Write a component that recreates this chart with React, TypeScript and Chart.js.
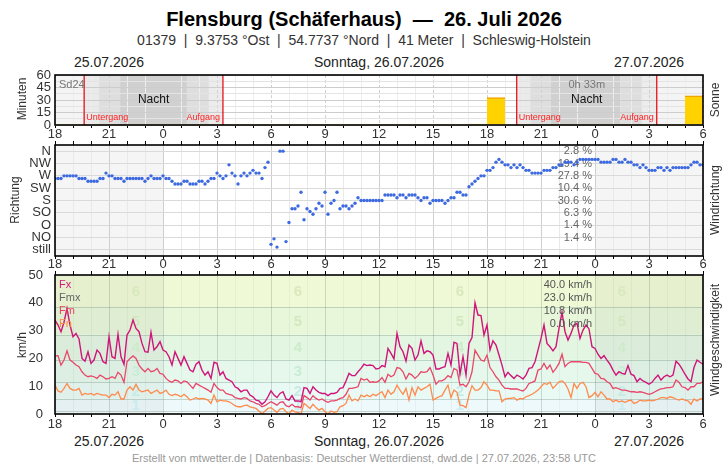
import React, { useEffect, useRef } from 'react';
import { Chart, registerables } from 'chart.js';

Chart.register(...registerables);

// ---------------- data ----------------
const FONT = '"Liberation Sans", Arial, Helvetica, sans-serif';
const SPAN_HOURS = 36; // 25.07. 18:00 UTC .. 27.07. 06:00 UTC
const SAMPLE_MIN = 10;

const xTickLabels = ['18', '21', '0', '3', '6', '9', '12', '15', '18', '21', '0', '3', '6'];
const dateLabels = ['25.07.2026', 'Sonntag, 26.07.2026', '27.07.2026'];
const dateCenterHours = [3, 18, 33];

// sunshine minutes per hour (first bar = 18-19 UTC on 25.07.)
const sunMinutes = [
  0, 0, 0, 0, 0, 0, 0, 0, 0, 0, 0, 0, 0, 0, 0, 0, 0, 0,
  0, 0, 0, 0, 0, 1, 33, 0, 0, 0, 0, 0, 0, 0, 0, 0, 0, 35,
];
const sunsetHours = [1.62, 25.65];
const civilDuskHours = [2.45, 26.4];
const nauticalDuskHours = [3.62, 27.55];
const nauticalDawnHours = [7.33, 31.4];
const civilDawnHours = [8.55, 32.6];
const sunriseHours = [9.33, 33.43];
const otherDayRanges = [[0, 6], [30, 36]];
const sunTotalLabel = '0h 33m';

const dirLabels = ['still', 'NO', 'O', 'SO', 'S', 'SW', 'W', 'NW', 'N'];
const dirFreq = [2.8, 19.4, 27.8, 10.4, 30.6, 6.3, 1.4, 1.4]; // N, NW, W, SW, S, SO, O, NO
const dirDeg = [
  260, 260, 260, 270, 270, 270, 270, 270, 260, 260,
  260, 250, 250, 250, 250, 260, 260, 280, 270, 270,
  260, 260, 260, 250, 260, 260, 260, 260, 260, 260,
  250, 260, 270, 260, 260, 260, 270, 260, 260, 250,
  240, 240, 240, 250, 250, 240, 240, 240, 250, 250,
  240, 250, 260, 260, 280, 270, 260, 270, 310, 280,
  270, 240, 270, 280, 270, 280, 290, 280, 280, 260,
  300, 320, 20, 40, 10, 360, 360, 30, 100, 150,
  150, 160, 210, 110, 150, 140, 130, 150, 170, 160,
  210, 130, 170, 180, 210, 150, 160, 160, 150, 160,
  170, 190, 180, 180, 180, 180, 180, 180, 180, 180,
  200, 200, 200, 200, 190, 200, 200, 190, 200, 200,
  200, 190, 180, 190, 190, 170, 180, 180, 180, 180,
  170, 180, 190, 190, 210, 210, 200, 200, 230, 240,
  250, 260, 270, 270, 290, 290, 300, 320, 330, 320,
  310, 310, 300, 310, 300, 310, 300, 290, 290, 280,
  280, 280, 280, 290, 290, 290, 300, 300, 310, 310,
  320, 320, 320, 310, 320, 330, 330, 330, 330, 330,
  330, 330, 320, 320, 320, 320, 330, 330, 320, 320,
  330, 320, 320, 310, 310, 300, 310, 300, 290, 290,
  290, 300, 300, 290, 300, 290, 300, 300, 300, 300,
  300, 300, 310, 320, 320, 310, 310,
];

const fx = [
  33.8, 32, 29.6, 33, 38, 32, 27.8, 29, 27, 20,
  19, 22.4, 18.2, 19.4, 23, 21.8, 18.8, 18.2, 27.8, 20.6,
  20, 28.7, 20.6, 17.9, 28.4, 30.2, 33.8, 30.8, 29.6, 25.4,
  22.4, 22.2, 29.4, 23, 24.2, 26, 23, 22.4, 20.6, 17.6,
  22.4, 20, 17.6, 20.6, 18.2, 15.8, 15.2, 17.9, 18.8, 15.8,
  14, 15.2, 12.8, 18.6, 18.2, 14, 15.2, 12.8, 12.2, 11.6,
  9.8, 9.2, 8, 8.6, 8.6, 6.8, 6.2, 5, 4.7, 3.5,
  4.4, 6.2, 8.3, 6.8, 5.9, 7.4, 8, 5.4, 5, 6.6,
  4.7, 4.7, 4.4, 9.5, 9.2, 7.4, 9.8, 8.6, 7.8, 7.4,
  7.4, 6.6, 7.4, 7.4, 7.8, 9.2, 9.5, 11.9, 14.6, 13.8,
  13.8, 15.2, 16.4, 17.9, 17.4, 17.6, 17.4, 16.2, 16.4, 17.4,
  17, 23.6, 21.8, 19.8, 29, 24.2, 22.4, 19, 24.8, 23.6,
  19.4, 21.2, 26.3, 21.8, 22.7, 22.4, 21.2, 16.2, 16.2, 16.7,
  17, 21.8, 17.6, 25.8, 25.4, 14.3, 20.6, 14, 25.4, 27.5,
  40, 35.6, 35.4, 28.4, 32, 23, 26.3, 24.8, 21.2, 17.6,
  13.4, 15, 13.8, 12.8, 14, 13.4, 12.6, 14, 16.4, 16.7,
  18.8, 23, 27.2, 32, 25.4, 24.2, 22.7, 24.2, 30.8, 36.6,
  29.6, 26.6, 29, 32, 32.6, 27.2, 30.2, 32, 30.6, 24.2,
  23.6, 21.5, 20, 21, 19.4, 17.9, 15.8, 14, 15.2, 14.6,
  14.3, 17.4, 14.3, 13.8, 11.6, 12.8, 11.9, 11.4, 10.7, 11.4,
  12.8, 14, 12.2, 13.4, 14, 13.4, 14, 19, 17.9, 16.2,
  14.3, 12.6, 11.6, 16.7, 19.4, 18.6, 17.9,
];

const fm = [
  20.9, 21, 17.6, 19.4, 22.7, 19.4, 18.6, 17.6, 17, 15.2,
  14, 13.4, 13.7, 13.4, 12.8, 14, 13.4, 12.6, 12.8, 13.4,
  12.8, 15, 14, 11.4, 18.8, 20, 20.9, 20, 17.6, 16.2,
  15.2, 16.4, 15.2, 15.5, 16.4, 14.6, 14.3, 12.8, 11.9, 11.4,
  12.2, 11.9, 11, 11.9, 11.6, 10.4, 9.2, 11, 10.4, 9.8,
  9.2, 8.6, 7.8, 11, 9.5, 8.6, 8.6, 7.4, 7.1, 6.8,
  5.9, 5.6, 5.4, 5.9, 5.6, 4.7, 4.4, 3.8, 3.5, 2.6,
  3, 3.8, 4.4, 3.8, 3.2, 4.2, 4.4, 3, 2.6, 3.5,
  2.6, 2.6, 2.3, 6.6, 5.9, 5, 6.6, 5.6, 5, 5.4,
  4.7, 4.2, 4.7, 4.7, 5, 5.6, 5.9, 7.1, 9.2, 9.2,
  9.5, 9.8, 12.8, 12.2, 12.6, 11.4, 11.6, 11.4, 11.9, 13.1,
  11.4, 14.3, 13.4, 14, 16.7, 16.4, 15.2, 12.6, 14.6, 14,
  12.8, 13.8, 15.2, 15, 15.2, 16.7, 14, 10.7, 11.9, 11.9,
  12.6, 13.8, 13.1, 16.4, 15.8, 10.4, 10.7, 9.8, 11.6, 15.2,
  23, 21.2, 19.4, 19, 21.2, 16.7, 15.2, 13.4, 12.2, 10.4,
  9.2, 9.2, 9, 9, 9, 8.6, 8.3, 9.2, 11, 11.4,
  11.9, 15.8, 16.2, 18.2, 16.2, 17.6, 15, 16.4, 18.2, 21.5,
  17, 18.2, 18.8, 18.8, 18.8, 18.8, 18.6, 18.6, 18.2, 16.4,
  14.6, 14.3, 12.8, 12.6, 11.6, 11, 9.2, 9.5, 9, 8.6,
  8.6, 8.3, 8, 8, 7.8, 8, 7.8, 7.4, 7.1, 7.4,
  8, 8.6, 9, 9.2, 9.5, 9.5, 9.8, 12.2, 11.4, 9.8,
  9.5, 8.6, 9.8, 9.8, 11, 11, 11.6,
];

const fn = [
  10.4, 8.3, 7.8, 9.2, 11, 9.2, 8.6, 8.6, 9.2, 6.8,
  7.4, 7.1, 7.4, 6.8, 7.4, 7.1, 6.8, 6.8, 5.9, 7.1,
  6.8, 8, 5.4, 5.4, 8.6, 9.8, 8.6, 10.7, 8.6, 8,
  8.3, 8.6, 7.4, 8, 8.6, 7.4, 7.8, 8.6, 7.1, 6.6,
  7.1, 6.8, 6.2, 7.1, 6.2, 5, 5.4, 5.9, 5.4, 5.6,
  5.4, 5, 3.8, 6.8, 4.4, 5, 4.7, 4.7, 4.4, 3.8,
  3, 2.6, 2.6, 3, 3.2, 2.6, 2.3, 2, 1.1, 0,
  1.1, 2, 2.3, 1.4, 0.6, 1.8, 2, 0.8, 0, 1.4,
  0.8, 0.6, 0, 3.8, 3, 2, 3.5, 2.3, 1.4, 2,
  0.8, 0, 1.1, 0.6, 0.8, 2.6, 3, 3.8, 6.8, 4.7,
  5.4, 4.7, 6.8, 6.2, 6.8, 6.2, 7.1, 6.6, 7.4, 8,
  5.9, 8.6, 7.1, 8, 10.4, 8.6, 7.1, 9.2, 5, 9.5,
  6.8, 9.8, 8.6, 9.2, 9.8, 10.7, 5, 5.6, 6.2, 6.6,
  8.6, 10.4, 5.9, 8.6, 7.8, 3.2, 3, 2.3, 6.8, 10.2,
  8.6, 8.6, 9.5, 11.6, 10.4, 8.6, 8.6, 8.3, 8.3, 4.4,
  5.4, 5.6, 5.6, 5.9, 5, 5.6, 5.4, 6.2, 6.6, 7.1,
  7.8, 8.6, 9.8, 11, 10.7, 11.4, 9.2, 10.4, 11.6, 11.9,
  11, 9, 5.9, 11, 9.2, 11, 11.4, 9.8, 5.9, 6.6,
  7.8, 6.2, 8, 6.8, 5.4, 5.4, 4.4, 5, 4.4, 4.7,
  4.2, 4.7, 5, 3.8, 4.2, 5, 4.7, 4.7, 5, 4.7,
  5, 5.4, 5.9, 5.9, 5.6, 6.2, 5.9, 5.4, 5, 5.4,
  5, 4.7, 3.5, 5.4, 4.7, 5.4, 5.4,
];

const speedStatNames = ['Fx', 'Fmx', 'Fm', 'Fn'];
const speedStatValues = [40.0, 23.0, 10.8, 0.0];
const bftBounds = [0, 1, 5.5, 11.5, 19.5, 28.5, 38.5, 50];
const bftDigits = ['1', '2', '3', '4', '5', '6'];

// ---------------- styling ----------------
const PLOT_LEFT = 55;
const PLOT_RIGHT = 703;
const hx = (h: number) => PLOT_LEFT + (h / SPAN_HOURS) * (PLOT_RIGHT - PLOT_LEFT);
const hourTicks = Array.from({ length: SPAN_HOURS + 1 }, (_, i) => i);
const sampleX = (i: number) => (i * SAMPLE_MIN) / 60;

const bftFill = ['#f2fbfb', '#edf9fa', '#e9f9f4', '#e6f8ec', '#e3f6e2', '#e8f7da', '#eff9d6'];
const bftDigitColor = ['#c8ecf0', '#c5ebe4', '#c9ecd4', '#cdebca', '#d3e8c1', '#d9e8bd'];
const statColors = ['#d21a7e', '#666666', '#e8445f', '#ff8a3d'];

function bottomAxis(height: number, padding: number, major: string, minor: string, dashMajor = false) {
  return {
    type: 'linear',
    position: 'bottom',
    min: 0,
    max: SPAN_HOURS,
    offset: false,
    afterBuildTicks: (s: any) => {
      s.ticks = hourTicks.map((v) => ({ value: v }));
    },
    afterFit: (s: any) => {
      s.height = height;
      s.paddingLeft = 0;
      s.paddingRight = 0;
    },
    ticks: {
      autoSkip: false,
      maxRotation: 0,
      minRotation: 0,
      padding,
      color: '#333',
      font: { family: FONT, size: 13 },
      callback: (v: number) => (v % 3 === 0 ? xTickLabels[v / 3] : ''),
    },
    grid: {
      color: (c: any) => (c.tick && c.tick.value % 3 === 0 ? major : minor),
      lineWidth: 1,
      drawTicks: true,
      tickLength: 3,
      tickColor: '#000',
      offset: false,
    },
    border: {
      display: false,
      dash: (c: any) => (dashMajor && c.tick && c.tick.value % 3 === 0 ? [3, 2] : []),
    },
  };
}

function topAxis() {
  return {
    type: 'linear',
    position: 'top',
    min: 0,
    max: SPAN_HOURS,
    offset: false,
    afterBuildTicks: (s: any) => {
      s.ticks = hourTicks.map((v) => ({ value: v }));
    },
    afterFit: (s: any) => {
      s.height = 5;
      s.paddingLeft = 0;
      s.paddingRight = 0;
    },
    ticks: { display: false, autoSkip: false },
    grid: { drawOnChartArea: false, drawTicks: true, tickLength: 4, tickColor: '#000', color: '#000', offset: false },
    border: { display: false },
  };
}

function leftAxis(min: number, max: number, values: number[], label: (v: number) => string, gridColor: any, size = 13) {
  return {
    type: 'linear',
    position: 'left',
    min,
    max,
    afterBuildTicks: (s: any) => {
      s.ticks = values.map((v) => ({ value: v }));
    },
    afterFit: (s: any) => {
      s.width = PLOT_LEFT;
      s.paddingTop = 0;
      s.paddingBottom = 0;
    },
    ticks: {
      autoSkip: false,
      padding: 4,
      color: '#333',
      font: { family: FONT, size },
      callback: (v: number) => label(v),
    },
    grid: { color: gridColor, drawTicks: false, lineWidth: 1 },
    border: { display: false },
  };
}

const framePlugin = {
  id: 'frame',
  afterDraw(chart: any) {
    const { ctx, chartArea: a } = chart;
    ctx.save();
    ctx.strokeStyle = '#000';
    ctx.lineWidth = 1.6;
    ctx.strokeRect(a.left, a.top, a.right - a.left, a.bottom - a.top);
    ctx.restore();
  },
};

function fillHours(chart: any, h0: number, h1: number, color: string) {
  const { ctx, chartArea: a, scales } = chart;
  const x0 = scales.x.getPixelForValue(h0);
  const x1 = scales.x.getPixelForValue(h1);
  ctx.fillStyle = color;
  ctx.fillRect(x0, a.top, x1 - x0, a.bottom - a.top);
}

const baseOptions = (padTop: number) => ({
  responsive: false,
  animation: false,
  events: [],
  layout: { padding: { left: 0, right: 728 - PLOT_RIGHT, top: padTop, bottom: 0 } },
  plugins: { legend: { display: false }, tooltip: { enabled: false }, title: { display: false } },
});

// ---------------- charts ----------------
const sunPlugin = {
  id: 'sunBg',
  beforeDraw(chart: any) {
    const { ctx } = chart;
    ctx.save();
    otherDayRanges.forEach(([s, e]) => fillHours(chart, s, e, '#f4f4f4'));
    sunsetHours.forEach((_, k) => {
      fillHours(chart, sunsetHours[k], civilDuskHours[k], '#eaeaea');
      fillHours(chart, civilDuskHours[k], nauticalDuskHours[k], '#dedede');
      fillHours(chart, nauticalDuskHours[k], nauticalDawnHours[k], '#d0d0d0');
      fillHours(chart, nauticalDawnHours[k], civilDawnHours[k], '#dedede');
      fillHours(chart, civilDawnHours[k], sunriseHours[k], '#ececec');
    });
    ctx.restore();
  },
  afterDatasetsDraw(chart: any) {
    const { ctx, chartArea: a, scales } = chart;
    ctx.save();
    sunsetHours.forEach((_, k) => {
      const xs = scales.x.getPixelForValue(sunsetHours[k]);
      const xr = scales.x.getPixelForValue(sunriseHours[k]);
      ctx.strokeStyle = '#e8101a';
      ctx.lineWidth = 1.3;
      [xs, xr].forEach((px) => {
        ctx.beginPath();
        ctx.moveTo(px, a.top);
        ctx.lineTo(px, a.bottom);
        ctx.stroke();
      });
      ctx.textBaseline = 'middle';
      ctx.font = `9px ${FONT}`;
      ctx.fillStyle = '#ff1f1f';
      ctx.textAlign = 'left';
      ctx.fillText('Untergang', xs + 2, a.bottom - 7);
      ctx.textAlign = 'right';
      ctx.fillText('Aufgang', xr - 3, a.bottom - 7);
      ctx.font = `12px ${FONT}`;
      ctx.fillStyle = '#111';
      ctx.textAlign = 'center';
      ctx.fillText('Nacht', (xs + xr) / 2, a.top + 24.5);
      if (k === sunsetHours.length - 1) {
        ctx.font = `11px ${FONT}`;
        ctx.fillStyle = '#777';
        ctx.fillText(sunTotalLabel, (xs + xr) / 2, a.top + 9.7);
      }
    });
    ctx.font = `11px ${FONT}`;
    ctx.fillStyle = '#777';
    ctx.textAlign = 'left';
    ctx.textBaseline = 'middle';
    ctx.fillText('Sd24', a.left + 4, a.top + 9.7);
    ctx.restore();
  },
};

function makeSunConfig(): any {
  const yTicks = [0, 7.5, 15, 22.5, 30, 37.5, 45, 52.5, 60];
  return {
    type: 'bar',
    data: {
      datasets: [
        {
          data: sunMinutes.map((v, i) => ({ x: i + 0.5, y: v })),
          backgroundColor: '#ffd200',
          borderColor: '#f0a400',
          borderWidth: (c: any) => (c.raw && c.raw.y > 0 ? { top: 1.5, left: 0, right: 0, bottom: 0 } : 0),
          borderSkipped: 'bottom',
          categoryPercentage: 1,
          barPercentage: 1,
        },
      ],
    },
    options: {
      ...baseOptions(5),
      scales: {
        x: bottomAxis(20, -1, '#cfcfcf', '#eeeeee', true),
        y: leftAxis(0, 60, yTicks, (v) => (v % 15 === 0 ? String(v) : ''), (c: any) =>
          c.tick && c.tick.value % 15 === 0 ? '#cdcdcd' : '#e4e4e4', 13),
      },
    },
    plugins: [sunPlugin, framePlugin],
  };
}

const dirPlugin = {
  id: 'dirBg',
  beforeDraw(chart: any) {
    const { ctx } = chart;
    ctx.save();
    otherDayRanges.forEach(([s, e]) => fillHours(chart, s, e, '#f5f5f5'));
    ctx.restore();
  },
  beforeDatasetsDraw(chart: any) {
    const { ctx, chartArea: a, scales } = chart;
    ctx.save();
    ctx.font = `11px ${FONT}`;
    ctx.fillStyle = '#666';
    ctx.textAlign = 'right';
    ctx.textBaseline = 'middle';
    dirFreq.forEach((f, k) => {
      ctx.fillText(`${f.toFixed(1)} %`, a.left + 537, scales.y.getPixelForValue(360 - 45 * k));
    });
    ctx.restore();
  },
};

function makeDirConfig(): any {
  return {
    type: 'scatter',
    data: {
      datasets: [
        {
          data: dirDeg.map((d, i) => ({ x: sampleX(i), y: d })),
          backgroundColor: '#3d6ae0',
          borderWidth: 0,
          pointRadius: 1.7,
          showLine: false,
        },
      ],
    },
    options: {
      ...baseOptions(0),
      scales: {
        x: bottomAxis(19, -2, '#cfcfcf', '#e9e9e9'),
        x2: topAxis(),
        y: leftAxis(-22.5, 382.5, dirLabels.map((_, i) => i * 45), (v) => dirLabels[Math.round(v / 45)], '#dadada', 13),
      },
    },
    plugins: [dirPlugin, framePlugin],
  };
}

const speedPlugin = {
  id: 'speedBg',
  beforeDraw(chart: any) {
    const { ctx, chartArea: a, scales } = chart;
    const y = scales.y;
    ctx.save();
    for (let k = 0; k < bftBounds.length - 1; k++) {
      const y0 = y.getPixelForValue(bftBounds[k + 1]);
      const y1 = y.getPixelForValue(bftBounds[k]);
      ctx.fillStyle = bftFill[k];
      ctx.fillRect(a.left, y0, a.right - a.left, y1 - y0);
    }
    otherDayRanges.forEach(([s, e]) => fillHours(chart, s, e, 'rgba(0,0,0,0.035)'));
    ctx.strokeStyle = 'rgba(90,130,110,0.3)';
    ctx.lineWidth = 1;
    for (let k = 1; k < bftBounds.length - 1; k++) {
      const py = Math.round(y.getPixelForValue(bftBounds[k])) + 0.5;
      ctx.beginPath();
      ctx.moveTo(a.left, py);
      ctx.lineTo(a.right, py);
      ctx.stroke();
    }
    ctx.restore();
  },
  beforeDatasetsDraw(chart: any) {
    const { ctx, chartArea: a, scales } = chart;
    ctx.save();
    ctx.font = `bold 15px ${FONT}`;
    ctx.textAlign = 'center';
    ctx.textBaseline = 'middle';
    const w = a.right - a.left;
    bftDigits.forEach((d, j) => {
      const mid = (bftBounds[j + 1] + bftBounds[j + 2]) / 2;
      ctx.fillStyle = bftDigitColor[j];
      for (let q = 0; q < 4; q++) {
        ctx.fillText(d, a.left + (w * (2 * q + 1)) / 8, scales.y.getPixelForValue(mid) + 1);
      }
    });
    ctx.restore();
  },
  afterDatasetsDraw(chart: any) {
    const { ctx, chartArea: a } = chart;
    ctx.save();
    ctx.font = `11px ${FONT}`;
    ctx.textBaseline = 'middle';
    speedStatNames.forEach((n, k) => {
      const py = a.top + 10 + 13 * k;
      ctx.textAlign = 'left';
      ctx.fillStyle = statColors[k];
      ctx.fillText(n, a.left + 4, py);
      ctx.textAlign = 'right';
      ctx.fillStyle = '#555';
      ctx.fillText(`${speedStatValues[k].toFixed(1)} km/h`, a.left + 537, py);
    });
    ctx.restore();
  },
};

function makeSpeedConfig(): any {
  const line = (data: number[], color: string, width: number) => ({
    data: data.map((v, i) => ({ x: sampleX(i), y: v })),
    borderColor: color,
    borderWidth: width,
    pointRadius: 0,
    fill: false,
    tension: 0,
  });
  return {
    type: 'line',
    data: {
      datasets: [line(fn, '#ff8a4c', 1.3), line(fm, '#e8476a', 1.3), line(fx, '#d0157a', 1.4)],
    },
    options: {
      ...baseOptions(0),
      scales: {
        x: bottomAxis(16, 0, 'rgba(70,100,80,0.22)', 'rgba(70,100,80,0.06)'),
        x2: topAxis(),
        y: {
          ...leftAxis(0, 50, [0, 10, 20, 30, 40, 50], (v) => String(v), 'rgba(0,0,0,0)', 13),
          grid: { display: false },
        },
      },
    },
    plugins: [speedPlugin, framePlugin],
  };
}

function ChartCanvas({ top, height, make }: { top: number; height: number; make: () => any }) {
  const ref = useRef<HTMLCanvasElement | null>(null);
  useEffect(() => {
    if (!ref.current) return;
    const chart = new Chart(ref.current, make());
    return () => chart.destroy();
  }, []);
  return (
    <canvas
      ref={ref}
      width={728}
      height={height}
      style={{ position: 'absolute', left: 0, top, width: 728, height }}
    />
  );
}

function Txt({ x, y, size, children, bold = false, color = '#222', align = 'center' }: any) {
  const style: any = {
    position: 'absolute',
    top: y - 0.47 * size,
    fontSize: size,
    lineHeight: `${size}px`,
    fontWeight: bold ? 'bold' : 'normal',
    color,
    whiteSpace: 'pre',
  };
  style.left = x;
  if (align === 'center') style.transform = 'translateX(-50%)';
  return <div style={style}>{children}</div>;
}

function VTxt({ x, y, size, children, color = '#333' }: any) {
  return (
    <div
      style={{
        position: 'absolute',
        left: x,
        top: y,
        fontSize: size,
        lineHeight: `${size}px`,
        color,
        whiteSpace: 'pre',
        transform: 'translate(-50%, -50%) rotate(-90deg)',
      }}
    >
      {children}
    </div>
  );
}

export default function App() {
  return (
    <div
      style={{
        position: 'absolute',
        left: 0,
        top: 0,
        width: 728,
        height: 465,
        background: '#fff',
        fontFamily: FONT,
        overflow: 'hidden',
      }}
    >
      <ChartCanvas top={70} height={75} make={makeSunConfig} />
      <ChartCanvas top={140} height={135} make={makeDirConfig} />
      <ChartCanvas top={270} height={160} make={makeSpeedConfig} />

      <Txt x={364} y={18} size={20} bold color="#000">{'Flensburg (Schäferhaus)  —  26. Juli 2026'}</Txt>
      <Txt x={364} y={40} size={14} color="#333">
        {'01379  |  9.3753 °Ost  |  54.7737 °Nord  |  41 Meter  |  Schleswig-Holstein'}
      </Txt>
      {dateLabels.map((d, i) => (
        <Txt key={'t' + i} x={hx(dateCenterHours[i])} y={62} size={14} color="#222">{d}</Txt>
      ))}
      {dateLabels.map((d, i) => (
        <Txt key={'b' + i} x={hx(dateCenterHours[i])} y={441} size={14} color="#222">{d}</Txt>
      ))}
      <Txt x={364} y={458} size={11} color="#999">
        {'Erstellt von mtwetter.de | Datenbasis: Deutscher Wetterdienst, dwd.de | 27.07.2026, 23:58 UTC'}
      </Txt>

      <VTxt x={22} y={99} size={12}>Minuten</VTxt>
      <VTxt x={15} y={200} size={12}>Richtung</VTxt>
      <VTxt x={22} y={345} size={12}>km/h</VTxt>
      <VTxt x={715} y={100} size={12}>Sonne</VTxt>
      <VTxt x={715} y={200} size={12}>Windrichtung</VTxt>
      <VTxt x={715} y={340} size={12}>Windgeschwindigkeit</VTxt>
    </div>
  );
}
